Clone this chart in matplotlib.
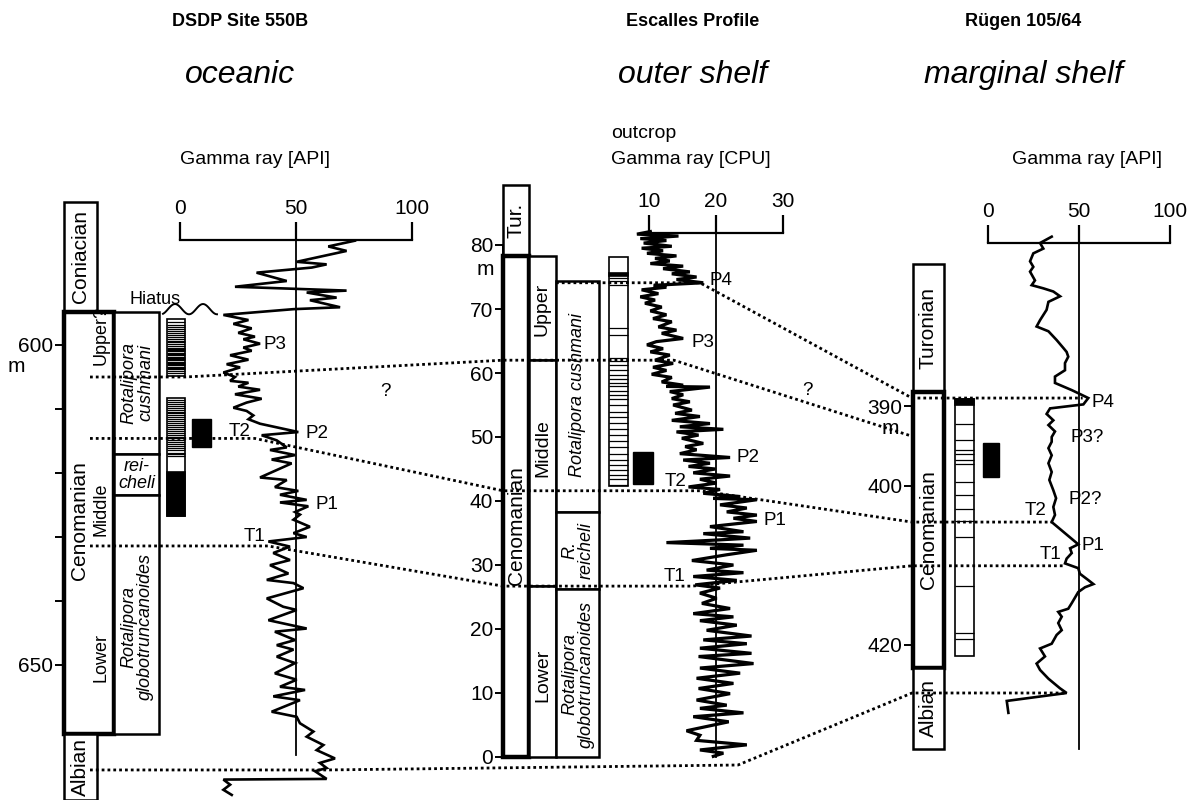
import numpy as np
import matplotlib.pyplot as plt
from matplotlib.patches import Rectangle
from matplotlib.lines import Line2D

plt.rcParams['font.family'] = ['Liberation Sans', 'DejaVu Sans']

# ---------------- DSDP Site 550B (oceanic) : depth [m], gamma ray [API]
dsdp_depth = [583.7, 584.6, 585.3, 587.0, 587.4, 587.9, 588.7, 590.0, 590.9, 591.5,
              591.8, 592.6, 593.0, 594.1, 594.4, 595.3, 596.1, 596.7, 597.4, 598.1,
              598.7, 599.1, 599.8, 600.4, 600.9, 601.6, 602.3, 603.0, 603.5, 604.3,
              605.0, 605.6, 605.9, 606.5, 607.0, 607.7, 608.4, 609.0, 609.8, 610.3,
              611.0, 611.6, 612.3, 613.6, 614.1, 614.9, 616.0, 616.4, 617.2, 617.9,
              618.5, 620.7, 621.1, 622.2, 622.8, 623.4, 624.2, 624.6, 625.2, 626.1,
              626.5, 627.3, 628.4, 629.4, 630.0, 630.7, 631.5, 632.5, 633.6, 634.4,
              635.7, 636.7, 637.2, 638.0, 639.6, 640.9, 641.4, 643.0, 644.3, 644.8,
              646.1, 646.9, 647.6, 648.7, 649.7, 651.3, 652.3, 653.4, 653.9, 654.9,
              655.5, 657.3, 658.1, 659.1, 660.4, 661.2, 662.5, 663.3, 664.6, 665.3,
              666.1, 666.6, 667.8, 667.9, 668.7, 669.5, 670.3]
dsdp_gr = [75.4, 63.9, 71.8, 50.3, 63.2, 56.8, 33.0, 46.0, 23.7, 71.8,
           54.6, 67.5, 56.0, 69.0, 48.9, 18.7, 29.5, 23.0, 30.9, 25.1,
           32.3, 27.3, 34.5, 27.3, 30.9, 21.6, 29.5, 20.1, 25.9, 18.7,
           23.7, 21.6, 29.5, 25.1, 34.5, 23.7, 35.2, 28.7, 23.0, 28.7,
           31.6, 29.5, 34.5, 51.0, 35.2, 41.7, 46.0, 38.8, 49.6, 39.5,
           48.1, 34.5, 46.0, 40.9, 51.0, 43.1, 54.6, 43.1, 55.3, 49.6,
           51.7, 48.9, 56.0, 48.9, 54.6, 38.1, 47.4, 40.2, 47.4, 38.8,
           46.7, 37.4, 48.9, 53.2, 37.4, 44.5, 50.3, 38.1, 54.6, 40.9,
           49.6, 41.7, 48.9, 41.7, 49.6, 40.9, 50.3, 43.1, 53.9, 40.2,
           51.7, 39.5, 50.3, 51.7, 57.5, 54.6, 61.8, 58.9, 66.8, 60.3,
           63.2, 58.2, 63.2, 18.7, 21.6, 18.7, 22.3]
dsdp_stages = [('Coniacian', 577.7, 594.8), ('Cenomanian', 594.8, 660.8), ('Albian', 660.8, 671.1)]
dsdp_substages = [('Upper?', 598.5), ('Middle', 625.6), ('Lower', 648.9)]
dsdp_zones = [('Rotalipora\ncushmani', 594.8, 617.1, 605.9), ('rei-\ncheli', 617.1, 623.4, 620.3),
              ('Rotalipora\nglobotruncanoides', 623.4, 660.8, 644.0)]
dsdp_litho = [(596.0, 604.8), (608.25, 626.7)]
dsdp_litho_dark = [(619.8, 626.7)]
dsdp_litho_lines = [596.4, 596.8, 597.2, 597.5, 597.8, 598.1, 598.4, 598.7, 599.0, 599.3,
                    599.6, 599.9, 600.2, 600.4, 600.6, 600.8, 601.0, 601.2, 601.4, 601.6,
                    601.8, 602.0, 602.2, 602.4, 602.6, 602.8, 603.0, 603.2, 603.4, 603.6,
                    603.8, 604.0, 604.3,
                    608.6, 608.9, 609.2, 609.5, 609.8, 610.1, 610.4, 610.7, 611.0, 611.3,
                    611.6, 611.9, 612.2, 612.5, 612.8, 613.1, 613.4, 613.7, 614.0, 614.3,
                    614.6, 614.9, 615.2, 615.5, 615.8, 616.1, 616.4, 616.8, 617.1, 617.4]
dsdp_marker = (611.6, 616.0)
dsdp_labels = [('P3', 35.8, 600.0, 'left'), ('P2', 53.9, 613.8, 'left'),
               ('P1', 58.2, 625.0, 'left'), ('T2', 30.2, 613.5, 'right'),
               ('T1', 36.6, 630.0, 'right'), ('?', 88.4, 607.3, 'center')]

# ---------------- Escalles profile (outer shelf) : height [m], gamma ray [CPU]
esc_depth = [82.1, 81.7, 81.4, 81.0, 80.7, 80.3, 79.8, 79.5, 79.1, 78.7,
             78.3, 77.9, 77.5, 77.1, 76.7, 76.3, 75.8, 75.5, 75.0, 74.6,
             74.1, 73.7, 73.4, 73.0, 72.4, 71.9, 71.4, 70.9, 70.3, 69.7,
             69.1, 68.5, 68.0, 67.2, 66.7, 66.2, 65.4, 64.9, 64.4, 63.8,
             63.3, 62.8, 62.0, 61.5, 60.9, 60.4, 59.8, 59.3, 58.6, 58.1,
             57.9, 57.8, 57.1, 56.6, 56.0, 55.5, 55.0, 54.2, 53.7, 53.2,
             52.6, 52.1, 51.6, 51.2, 50.8, 50.3, 49.8, 49.0, 48.5, 48.0,
             47.4, 46.8, 46.4, 45.9, 45.4, 45.0, 44.4, 43.9, 43.4, 42.8,
             42.2, 41.8, 41.2, 40.7, 40.4, 40.2, 39.4, 38.9, 38.3, 37.8,
             37.3, 36.8, 36.0, 35.2, 34.9, 34.2, 33.9, 33.5, 33.1, 32.6,
             32.3, 31.6, 30.7, 30.0, 29.2, 28.8, 28.2, 27.6, 26.9, 26.4,
             25.6, 24.8, 24.0, 23.2, 22.4, 21.9, 21.3, 20.6, 19.8, 18.9,
             18.3, 17.7, 17.0, 16.2, 15.7, 14.6, 13.9, 13.1, 12.3, 11.5,
             10.7, 9.9, 8.9, 8.1, 7.6, 6.9, 6.3, 5.5, 4.1, 3.4,
             2.6, 1.9, 1.1, 0.6, 0.1]
esc_cpu = [10.2, 8.2, 14.4, 8.7, 12.6, 9.2, 13.4, 8.9, 12.1, 9.7,
           14.1, 10.9, 13.1, 10.2, 15.1, 12.1, 16.1, 13.4, 17.1, 14.1,
           18.1, 10.7, 12.6, 8.9, 11.4, 8.7, 10.9, 9.4, 11.9, 10.2,
           12.6, 10.6, 13.4, 11.4, 14.1, 11.9, 15.1, 11.1, 9.7, 12.1,
           10.2, 13.1, 10.9, 13.6, 10.6, 12.6, 10.4, 13.4, 11.9, 15.1,
           12.6, 19.1, 13.1, 15.1, 13.4, 16.1, 13.6, 16.4, 13.9, 17.6,
           13.4, 19.1, 14.6, 21.1, 14.1, 17.4, 14.9, 18.1, 15.4, 17.1,
           14.6, 22.1, 15.1, 19.1, 15.9, 19.9, 16.6, 22.1, 17.6, 20.1,
           15.9, 20.6, 18.1, 23.6, 19.6, 26.1, 20.6, 24.6, 21.6, 26.1,
           22.6, 26.1, 19.1, 24.1, 18.1, 25.1, 20.1, 12.6, 24.1, 19.1,
           26.1, 21.6, 16.4, 22.6, 18.6, 24.1, 16.6, 23.1, 16.9, 20.6,
           17.6, 20.1, 17.9, 22.1, 16.6, 22.6, 17.6, 23.1, 18.6, 25.3,
           18.1, 24.6, 17.6, 25.3, 17.4, 25.6, 17.6, 23.6, 17.1, 22.6,
           17.4, 22.1, 17.1, 21.6, 17.6, 24.1, 16.6, 21.9, 15.6, 17.6,
           17.1, 24.6, 17.6, 21.1, 19.6]
esc_stages = [('Tur.', 78.3, 89.4, 83.9), ('Cenomanian', 0.0, 78.3, 36.1)]
esc_substages = [('Upper', 62.0, 78.3, 69.9), ('Middle', 26.7, 62.0, 48.3), ('Lower', 0.0, 26.7, 12.8)]
esc_zones = [('Rotalipora cushmani', 38.3, 74.4, 56.6), ('R.\nreicheli', 26.2, 38.3, 32.3),
             ('Rotalipora\nglobotruncanoides', 0.0, 26.2, 12.9)]
esc_litho = (42.3, 78.2)
esc_litho_dark = [(75.2, 75.7)]
esc_litho_lines = [74.8, 74.3, 73.75, 67.0, 65.9, 62.3, 61.8, 61.3, 60.5, 59.7,
                   59.0, 58.5, 57.9, 57.2, 56.6, 56.0, 55.0, 53.9, 53.2, 52.2,
                   51.3, 50.3, 49.3, 48.5, 47.4, 46.4, 45.6, 44.8, 44.1, 43.4, 42.5]
esc_marker = (42.7, 47.7)
esc_labels = [('P4', 19.1, 74.5, 'left'), ('P3', 16.4, 64.7, 'left'),
              ('P2', 23.0, 46.8, 'left'), ('T2', 15.6, 43.0, 'right'),
              ('P1', 27.1, 37.0, 'left'), ('T1', 15.5, 28.2, 'right'),
              ('?', 33.7, 57.2, 'center')]

# ---------------- Ruegen 105/64 (marginal shelf) : depth [m], gamma ray [API]
rue_depth = [368.7, 369.5, 370.2, 370.8, 371.8, 372.5, 373.1, 374.2, 374.8, 375.2,
             375.6, 376.2, 376.9, 377.9, 379.2, 380.0, 380.6, 381.7, 382.7, 383.2,
             383.8, 384.6, 385.5, 386.3, 387.1, 388.0, 388.6, 389.0, 389.8, 390.3,
             391.0, 391.8, 392.4, 393.2, 393.9, 394.5, 395.3, 396.2, 397.2, 398.3,
             399.3, 400.6, 401.6, 402.7, 403.7, 404.6, 407.4, 407.9, 408.5, 409.2,
             409.8, 410.4, 411.1, 411.9, 412.4, 412.8, 413.4, 414.8, 415.5, 415.9,
             416.5, 417.3, 418.2, 418.8, 419.9, 420.5, 421.5, 422.4, 423.2, 424.3,
             425.5, 426.1, 427.1, 428.6]
rue_gr = [35.0, 28.6, 30.4, 24.9, 23.1, 24.9, 23.1, 25.8, 24.0, 30.4,
          35.9, 39.6, 33.2, 32.2, 28.6, 26.7, 33.2, 37.7, 41.4, 43.2,
          44.1, 42.3, 42.3, 36.8, 36.8, 46.0, 51.5, 55.1, 52.4, 34.1,
          32.2, 35.9, 33.2, 36.8, 35.0, 35.0, 33.2, 35.0, 33.2, 35.0,
          33.7, 35.9, 37.4, 35.9, 36.8, 35.0, 49.6, 45.1, 46.0, 43.2,
          42.3, 49.6, 50.5, 55.1, 57.9, 53.3, 49.6, 46.0, 44.1, 38.6,
          40.5, 38.6, 40.5, 37.7, 35.0, 28.6, 31.3, 26.7, 28.6, 33.2,
          39.5, 43.2, 10.3, 11.2]
rue_stages = [('Turonian', 372.1, 388.2), ('Cenomanian', 388.2, 423.0), ('Albian', 423.0, 433.1)]
rue_litho = (389.1, 421.4)
rue_litho_dark = [(389.1, 389.9)]
rue_litho_lines = [392.3, 394.3, 395.5, 396.0, 396.8, 397.3, 399.5, 401.2, 403.0,
                   404.5, 406.5, 412.7, 418.6, 419.3]
rue_marker = (394.7, 398.9)
rue_labels = [('P4', 57.0, 389.5, 'left'), ('P3?', 45.1, 393.9, 'left'),
              ('P2?', 44.5, 401.8, 'left'), ('T2', 32.3, 403.2, 'right'),
              ('P1', 51.5, 407.5, 'left'), ('T1', 40.5, 408.7, 'right')]

# correlation tie depths in each section
tie_dsdp = {'?': 605.0, 'T2': 614.6, 'T1': 631.4, 'base': 666.4}
tie_esc = {'P4': 74.1, '?': 62.0, 'T2': 41.6, 'T1': 26.7, 'base': -1.25}
tie_rue = {'P4': 389.0, '?': 393.8, 'T2': 404.6, 'T1': 410.1, 'base': 426.1}

W, H = 1187, 800
Y_BOT = 770      # lower edge of the log axes (curves run on below it)
fig = plt.figure(figsize=(W / 100, H / 100), dpi=100)


def make_panel(x0, x1, y_bar, xlim, d_ref, y_ref, px_per_m, ticks):
    # px_per_m > 0: depth grows downwards, < 0: height grows upwards
    ax = fig.add_axes([x0 / W, (H - Y_BOT) / H, (x1 - x0) / W, (Y_BOT - y_bar) / H])
    ax.set_xlim(xlim)
    ax.set_ylim(d_ref + (Y_BOT - y_ref) / px_per_m, d_ref + (y_bar - y_ref) / px_per_m)
    ax.patch.set_visible(False)
    col = ax.twiny()           # layout axis for the columns, x in pixels
    col.set_xlim(x0, x1)
    col.axis('off')
    # twiny moves the ticks of ax to the bottom, so set them up afterwards
    for s in ('left', 'right', 'bottom'):
        ax.spines[s].set_visible(False)
    ax.spines['top'].set_visible(True)
    ax.spines['top'].set_linewidth(1.6)
    ax.set_xticks(ticks)
    ax.tick_params(axis='x', top=True, labeltop=True, bottom=False, labelbottom=False,
                   direction='out', length=13, width=1.6, labelsize=15, pad=3)
    ax.set_yticks([])
    return ax, col


def depth_axis(ax, x_px, ticks, labels, bounds):
    pos = ax.get_position()
    dax = fig.add_axes([x_px / W, pos.y0, 0.5 / W, pos.height])
    dax.set_ylim(ax.get_ylim())
    dax.patch.set_visible(False)
    for s in ('top', 'right', 'bottom'):
        dax.spines[s].set_visible(False)
    dax.spines['left'].set_bounds(*bounds)
    dax.spines['left'].set_linewidth(1.4)
    dax.set_xticks([])
    dax.set_yticks(ticks, labels)
    dax.tick_params(axis='y', length=6, width=1.4, labelsize=15, pad=1)
    return dax


def box(col, x0, x1, d0, d1, lw=1.8, fc='white'):
    col.add_patch(Rectangle((x0, d0), x1 - x0, d1 - d0, fc=fc, ec='k', lw=lw, clip_on=False))


def litho(col, x0, x1, intervals, dark, lines, marker, mx):
    for d0, d1 in intervals:
        box(col, x0, x1, d0, d1, lw=1.2)
    for d0, d1 in dark:
        box(col, x0, x1, d0, d1, lw=1.2, fc='k')
    col.hlines(lines, x0, x1, color='k', lw=0.9, clip_on=False)
    box(col, mx[0], mx[1], marker[0], marker[1], lw=1.0, fc='k')


def curve(ax, gr, depth, labels, ref, ref_bottom, lw=1.9):
    ax.plot([ref, ref], [ax.get_ylim()[1], ref_bottom], color='k', lw=1.3)
    ax.plot(gr, depth, color='k', lw=lw, clip_on=False, solid_joinstyle='miter')
    for txt, x, d, ha in labels:
        ax.text(x, d, txt, ha=ha, va='center', fontsize=13.5, clip_on=False)


def tie(points):
    inv = fig.transFigure.inverted()
    xy = np.array([inv.transform(a.transData.transform((x, d))) for a, x, d in points])
    fig.add_artist(Line2D(xy[:, 0], xy[:, 1], transform=fig.transFigure, color='k',
                          lw=2.0, ls=(0, (1, 1.1))))


# ---------------- panels
axL, colL = make_panel(180, 412, 240, (0, 100), 600, 345, 6.4, [0, 50, 100])
axM, colM = make_panel(649, 783, 233, (10, 30), 0, 757, -6.4, [10, 20, 30])
axR, colR = make_panel(988, 1170, 243, (0, 100), 390, 406, 7.95, [0, 50, 100])

depth_axis(axL, 63, [600, 610, 620, 630, 640, 650], ['600', '', '', '', '', '650'], (594.8, 660.8))
depth_axis(axM, 503, list(range(0, 81, 10)), [str(v) for v in range(0, 81, 10)], (0, 80))
depth_axis(axR, 912, [390, 400, 420], ['390', '400', '420'], (388.2, 423.0))
colL.text(16, 603.3, 'm', ha='center', va='center', fontsize=15, clip_on=False)
colM.text(485, 76.1, 'm', ha='center', va='center', fontsize=15, clip_on=False)
colR.text(890, 392.8, 'm', ha='center', va='center', fontsize=15, clip_on=False)

# ----- DSDP columns
for name, d0, d1 in dsdp_stages:
    if name == 'Cenomanian':
        box(colL, 64, 114, d0, d1, lw=3.2)
        colL.text(79, 627.5, name, rotation=90, ha='center', va='center', fontsize=15, clip_on=False)
    else:
        box(colL, 64, 97, d0, d1)
        colL.text(80.5, (d0 + d1) / 2, name, rotation=90, ha='center', va='center', fontsize=15, clip_on=False)
for name, d in dsdp_substages:
    colL.text(101, d, name, rotation=90, ha='center', va='center', fontsize=13, clip_on=False)
for name, d0, d1, dt in dsdp_zones:
    box(colL, 114, 159, d0, d1)
    rot = 0 if name.startswith('rei') else 90
    colL.text(137, dt, name, rotation=rot, ha='center', va='center', fontsize=13,
              style='italic', linespacing=1.0, clip_on=False)
litho(colL, 167, 185, dsdp_litho, dsdp_litho_dark, dsdp_litho_lines, dsdp_marker, (192, 211))
wx = np.linspace(163, 217, 120)   # hiatus symbol
colL.plot(wx, 594.4 - 0.8 * np.cos(2 * np.pi * (wx - 175) / 28), color='k', lw=1.4, clip_on=False)
colL.text(155, 592.9, 'Hiatus', ha='center', va='center', fontsize=13, clip_on=False)
curve(axL, dsdp_gr, dsdp_depth, dsdp_labels, 50, 664.1)

# ----- Escalles columns
for name, d0, d1, dt in esc_stages:
    box(colM, 503, 529, d0, d1, lw=3.2 if name == 'Cenomanian' else 1.8)
    colM.text(516.5, dt, name, rotation=90, ha='center', va='center', fontsize=15, clip_on=False)
for name, d0, d1, dt in esc_substages:
    box(colM, 529, 556, d0, d1)
    colM.text(542.5, dt, name, rotation=90, ha='center', va='center', fontsize=14, clip_on=False)
for name, d0, d1, dt in esc_zones:
    box(colM, 556, 599, d0, d1)
    colM.text(578, dt, name, rotation=90, ha='center', va='center', fontsize=13,
              style='italic', linespacing=1.0, clip_on=False)
litho(colM, 609, 628, [esc_litho], esc_litho_dark, esc_litho_lines, esc_marker, (633, 653))
curve(axM, esc_cpu, esc_depth, esc_labels, 20, 0, lw=2.3)

# ----- Ruegen columns
for name, d0, d1 in rue_stages:
    box(colR, 913, 944, d0, d1, lw=3.2 if name == 'Cenomanian' else 1.8)
    colR.text(928.5, (d0 + d1) / 2, name, rotation=90, ha='center', va='center', fontsize=15, clip_on=False)
litho(colR, 955, 974, [rue_litho], rue_litho_dark, rue_litho_lines, rue_marker, (983, 999))
curve(axR, rue_gr, rue_depth, rue_labels, 50, 433.1)

# ----- correlation lines
tie([(colM, 556, tie_esc['P4']), (axM, 17.6, tie_esc['P4']),
     (colR, 912, tie_rue['P4']), (axR, 52.0, tie_rue['P4'])])
tie([(colL, 90, tie_dsdp['?']), (colL, 185, tie_dsdp['?']), (colM, 503, tie_esc['?']),
     (axM, 13.7, tie_esc['?']), (colR, 912, tie_rue['?'])])
tie([(colL, 90, tie_dsdp['T2']), (axL, 32.3, tie_dsdp['T2']), (colM, 503, tie_esc['T2']),
     (axM, 17.6, tie_esc['T2']), (colR, 912, tie_rue['T2']), (axR, 35.0, tie_rue['T2'])])
tie([(colL, 90, tie_dsdp['T1']), (axL, 37.9, tie_dsdp['T1']), (colM, 503, tie_esc['T1']),
     (axM, 16.4, tie_esc['T1']), (colR, 912, tie_rue['T1']), (axR, 41.2, tie_rue['T1'])])
tie([(colL, 90, tie_dsdp['base']), (axL, 63.2, tie_dsdp['base']), (colM, 738, tie_esc['base']),
     (colR, 912, tie_rue['base']), (axR, 43.2, tie_rue['base'])])

# ----- headings
for x, site, env in [(240, 'DSDP Site 550B', 'oceanic'), (693, 'Escalles Profile', 'outer shelf'),
                     (1023, 'Rügen 105/64', 'marginal shelf')]:
    fig.text(x / W, 1 - 22 / H, site, ha='center', va='center', fontsize=13, weight='bold')
    fig.text(x / W, 1 - 75 / H, env, ha='center', va='center', fontsize=23, style='italic')
fig.text(255 / W, 1 - 160 / H, 'Gamma ray [API]', ha='center', va='center', fontsize=14)
fig.text(611 / W, 1 - 133 / H, 'outcrop', ha='left', va='center', fontsize=14)
fig.text(611 / W, 1 - 160 / H, 'Gamma ray [CPU]', ha='left', va='center', fontsize=14)
fig.text(1087 / W, 1 - 160 / H, 'Gamma ray [API]', ha='center', va='center', fontsize=14)

fig.savefig('out.png', dpi=100)
